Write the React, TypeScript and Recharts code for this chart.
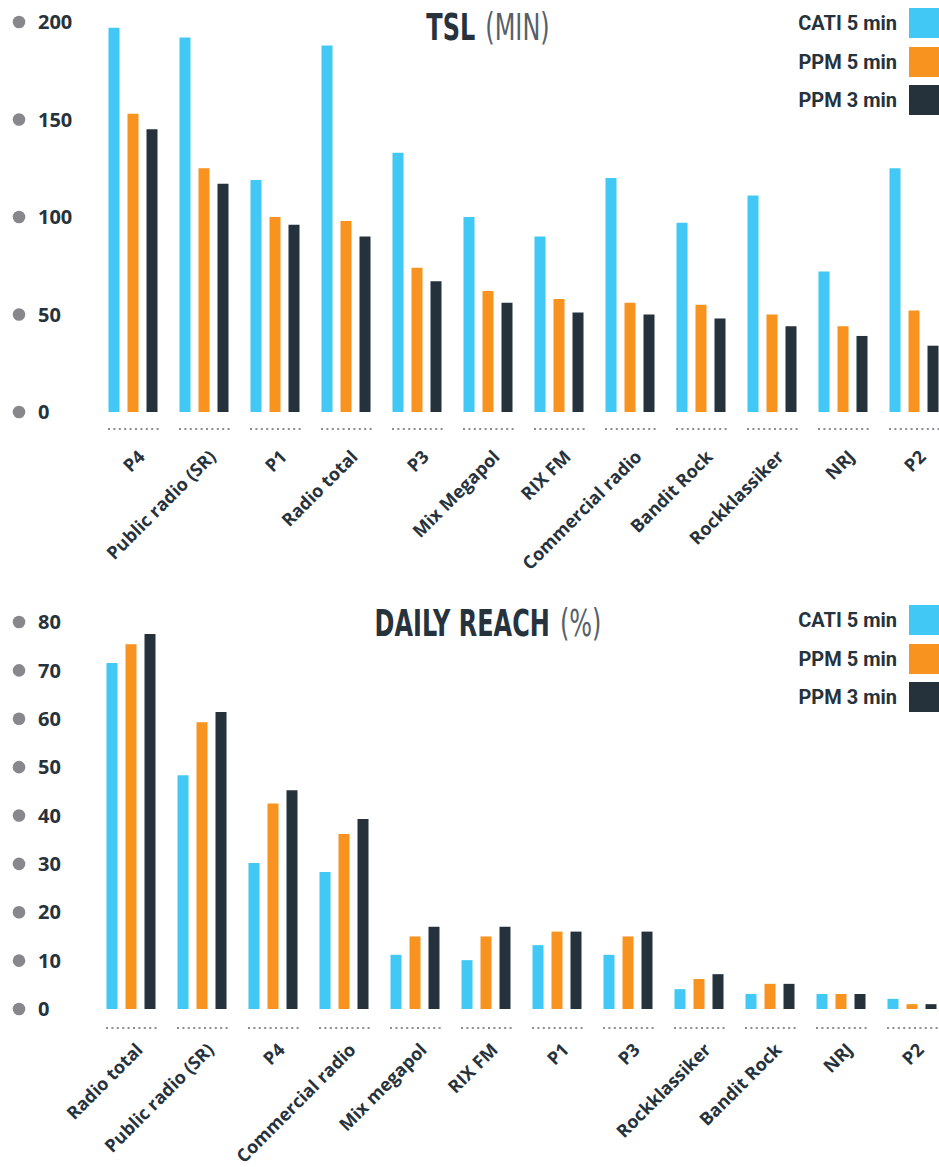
import React from "react";
import { BarChart, Bar, XAxis, YAxis } from "recharts";

const CYAN = "#42c8f4";
const ORANGE = "#f7931e";
const DARK = "#25323c";
const TEXT = "#26323c";

const tslStations = ["P4", "Public radio (SR)", "P1", "Radio total", "P3", "Mix Megapol", "RIX FM", "Commercial radio", "Bandit Rock", "Rockklassiker", "NRJ", "P2"];
const tslCati = [197, 192, 119, 188, 133, 100, 90, 120, 97, 111, 72, 125];
const tslPpm5 = [153, 125, 100, 98, 74, 62, 58, 56, 55, 50, 44, 52];
const tslPpm3 = [145, 117, 96, 90, 67, 56, 51, 50, 48, 44, 39, 34];
const tslTicks = [0, 50, 100, 150, 200];

const reachStations = ["Radio total", "Public radio (SR)", "P4", "Commercial radio", "Mix megapol", "RIX FM", "P1", "P3", "Rockklassiker", "Bandit Rock", "NRJ", "P2"];
const reachCati = [71.5, 48.3, 30.2, 28.3, 11.2, 10.1, 13.2, 11.2, 4.1, 3.1, 3.1, 2.1];
const reachPpm5 = [75.4, 59.3, 42.5, 36.2, 15, 15, 16, 15, 6.2, 5.2, 3.1, 1];
const reachPpm3 = [77.5, 61.4, 45.2, 39.3, 17, 17, 16, 16, 7.2, 5.2, 3.1, 1];
const reachTicks = [0, 10, 20, 30, 40, 50, 60, 70, 80];

const legendItems = [
  { label: "CATI 5 min", color: CYAN },
  { label: "PPM 5 min", color: ORANGE },
  { label: "PPM 3 min", color: DARK },
];

const toRows = (names: string[], a: number[], b: number[], c: number[]) =>
  names.map((name, i) => ({ name, cati5: a[i], ppm5: b[i], ppm3: c[i] }));

const tslData = toRows(tslStations, tslCati, tslPpm5, tslPpm3);
const reachData = toRows(reachStations, reachCati, reachPpm5, reachPpm3);

function YTick(props: any) {
  const { y, payload } = props;
  return (
    <g>
      <circle cx={19} cy={y} r={6.3} fill="#88888c" />
      <text x={38} y={y} dy="0.36em" fill={TEXT} fontSize={20} fontWeight={700} fontFamily="'Open Sans', sans-serif">
        {payload.value}
      </text>
    </g>
  );
}

function XTick(props: any) {
  const { x, y, payload, lineDy, labelDy } = props;
  return (
    <g>
      <line x1={x - 25} x2={x + 26} y1={y + lineDy} y2={y + lineDy} stroke="#8d8d91" strokeWidth={2} strokeDasharray="2 3.4" />
      <text
        transform={`translate(${x + 13},${y + labelDy}) rotate(-45)`}
        textAnchor="end"
        fill={TEXT}
        fontSize={18}
        fontWeight={700}
        fontFamily="'Open Sans', sans-serif"
      >
        {payload.value}
      </text>
    </g>
  );
}

function Legend({ top }: { top: number }) {
  return (
    <div style={{ position: "absolute", top, right: 0 }}>
      {legendItems.map((it) => (
        <div key={it.label} style={{ display: "flex", alignItems: "center", justifyContent: "flex-end", height: 30, marginBottom: 8.7 }}>
          <span style={{ fontFamily: "Roboto, sans-serif", fontWeight: 700, fontSize: 20, color: TEXT, marginRight: 12 }}>{it.label}</span>
          <span style={{ width: 30, height: 30, background: it.color, display: "inline-block" }} />
        </div>
      ))}
    </div>
  );
}

function Title({ top, bold, light }: { top: number; bold: string; light: string }) {
  return (
    <div
      style={{
        position: "absolute",
        top,
        left: 0,
        width: 976,
        textAlign: "center",
        fontFamily: "'Liberation Sans Narrow', 'DejaVu Sans Condensed', sans-serif",
        fontSize: 37,
        lineHeight: "36px",
        color: TEXT,
        transform: "scaleX(0.72)",
        transformOrigin: "488px 0",
        whiteSpace: "nowrap",
      }}
    >
      <span style={{ fontWeight: 700 }}>{bold}</span>
      <span style={{ fontWeight: 400, color: "#56606a", marginLeft: 14 }}>{light}</span>
    </div>
  );
}

function Panel(props: { data: any[]; max: number; ticks: number[]; yWidth: number; right: number; top: number; height: number; lineDy: number; labelDy: number }) {
  const { data, max, ticks, yWidth, right, top, height, lineDy, labelDy } = props;
  return (
    <BarChart
      width={960}
      height={height}
      data={data}
      margin={{ top, right, bottom: 0, left: 0 }}
      barSize={11}
      barGap={8}
      style={{ overflow: "visible" }}
    >
      <YAxis type="number" domain={[0, max]} ticks={ticks} width={yWidth} axisLine={false} tickLine={false} tick={<YTick />} interval={0} />
      <XAxis
        dataKey="name"
        interval={0}
        axisLine={false}
        tickLine={false}
        height={height - 412}
        tick={(p: any) => <XTick {...p} lineDy={lineDy} labelDy={labelDy} />}
      />
      <Bar dataKey="cati5" fill={CYAN} isAnimationActive={false} />
      <Bar dataKey="ppm5" fill={ORANGE} isAnimationActive={false} />
      <Bar dataKey="ppm3" fill={DARK} isAnimationActive={false} />
    </BarChart>
  );
}

export default function App() {
  return (
    <div style={{ position: "absolute", left: 0, top: 0, width: 939, height: 1167, overflow: "hidden", background: "#fff" }}>
      <div style={{ position: "absolute", left: 0, top: 0 }}>
        <Panel data={tslData} max={200} ticks={tslTicks} yWidth={97.5} right={10.5} top={22} height={575} lineDy={9} labelDy={38} />
      </div>
      <Title top={10} bold="TSL" light="(MIN)" />
      <Legend top={8} />

      <div style={{ position: "absolute", left: 0, top: 597 }}>
        <Panel data={reachData} max={80} ticks={reachTicks} yWidth={95.5} right={12.5} top={25} height={570} lineDy={11} labelDy={34} />
      </div>
      <Title top={606} bold="DAILY REACH" light="(%)" />
      <Legend top={605} />
    </div>
  );
}
